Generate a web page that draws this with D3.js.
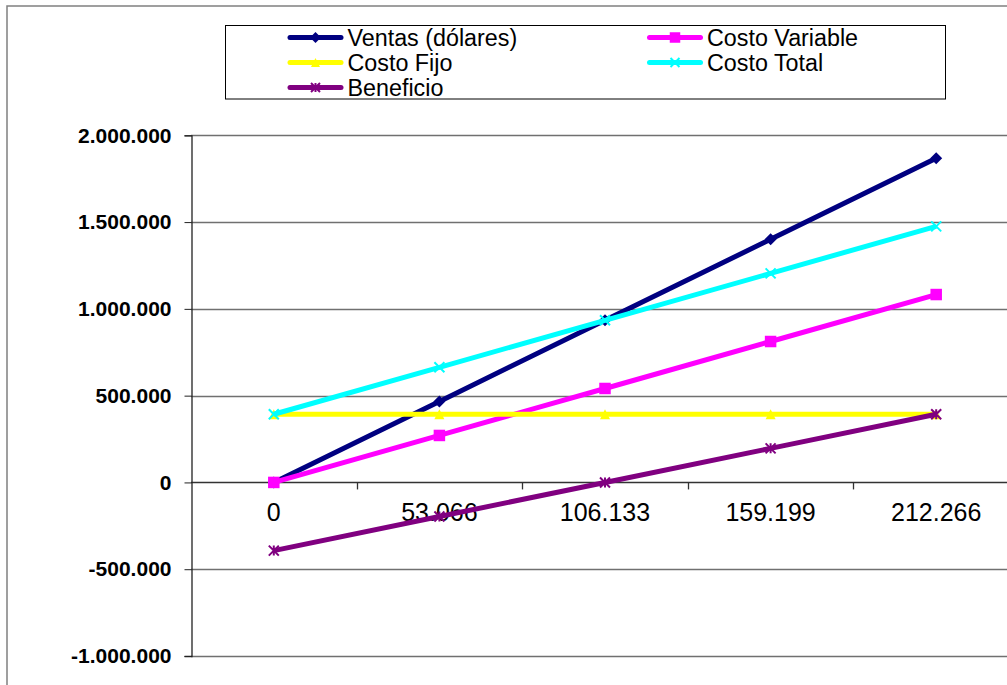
<!DOCTYPE html>
<html>
<head>
<meta charset="utf-8">
<script src="https://cdn.jsdelivr.net/npm/d3@7"></script>
<style>
  html, body { margin: 0; padding: 0; background: #fff; overflow: hidden; }
  svg { display: block; font-family: Arial, "Liberation Sans", sans-serif; }
</style>
</head>
<body>
<svg id="chart" width="1007" height="685"></svg>
<script>
// Unidades vendidas (eje de categorías)
const unidades = [0, 53066, 106133, 159199, 212266];

// Series en dólares
const ventas        = [0, 466981, 933970, 1400951, 1867941];
const costoVariable = [0, 270637, 541278, 811915, 1082557];
const costoFijo     = [392692, 392692, 392692, 392692, 392692];
const costoTotal    = [392692, 663329, 933970, 1204607, 1475249];
const beneficio     = [-392692, -196348, 0, 196344, 392692];

const yTicks = [-1000000, -500000, 0, 500000, 1000000, 1500000, 2000000];

const seriesNames = ["Ventas (dólares)", "Costo Variable", "Costo Fijo", "Costo Total", "Beneficio"];
const seriesValues = [ventas, costoVariable, costoFijo, costoTotal, beneficio];
const seriesColors = ["#000080", "#ff00ff", "#ffff00", "#00ffff", "#800080"];
const seriesMarkers = ["diamond", "square", "triangle", "x", "star"];

const es = d3.formatLocale({ decimal: ",", thousands: ".", grouping: [3], currency: ["$", ""], minus: "-" });
const fmt = es.format(",d");

const svg = d3.select("#chart");

// Marco exterior del gráfico
svg.append("rect")
  .attr("x", 7).attr("y", 6).attr("width", 1100).attr("height", 800)
  .attr("fill", "#fff").attr("stroke", "#808080").attr("stroke-width", 1.5);

const plot = { left: 191, right: 1019, top: 135.3, bottom: 656 };

const x = d3.scaleBand().domain(unidades).range([plot.left, plot.right]).paddingInner(0).paddingOuter(0);
const cx = d => x(d) + x.bandwidth() / 2;
const y = d3.scaleLinear().domain([-1000000, 2000000]).range([plot.bottom, plot.top]);

// Líneas de división horizontales
svg.append("g").selectAll("line").data(yTicks).join("line")
  .attr("x1", plot.left).attr("x2", 1010)
  .attr("y1", d => Math.round(y(d)) + 0.5).attr("y2", d => Math.round(y(d)) + 0.5)
  .attr("stroke", d => d === 0 ? "#333" : "#707070").attr("stroke-width", 1.3);

// Eje Y
const yAxis = d3.axisLeft(y).tickValues(yTicks).tickSize(7).tickPadding(13).tickFormat(fmt);
const gy = svg.append("g").attr("transform", `translate(${plot.left + 0.5},0)`).call(yAxis);
gy.select(".domain").attr("stroke", "#222").attr("stroke-width", 1.3);
gy.selectAll(".tick line").attr("stroke", "#222");
gy.selectAll(".tick text").attr("font-size", 21).attr("font-weight", "bold")
  .attr("fill", "#000").attr("font-family", "Arial, 'Liberation Sans', sans-serif");

// Eje X sobre el valor cero (marcas entre categorías)
const boundaries = unidades.slice(1).map(d => x(d));
svg.append("g").selectAll("line").data(boundaries).join("line")
  .attr("x1", d => Math.round(d) + 0.5).attr("x2", d => Math.round(d) + 0.5)
  .attr("y1", y(0)).attr("y2", y(0) + 7)
  .attr("stroke", "#333").attr("stroke-width", 1.3);

svg.append("g").selectAll("text").data(unidades).join("text")
  .attr("x", d => cx(d)).attr("y", y(0) + 39)
  .attr("text-anchor", "middle").attr("font-size", 25).attr("fill", "#000")
  .text(d => fmt(d));

// Marcadores
function drawMarker(g, type, color, px, py, s) {
  if (type === "diamond") {
    const h = s / 2;
    g.append("path").attr("d", `M${px},${py - h}L${px + h},${py}L${px},${py + h}L${px - h},${py}Z`)
      .attr("fill", color);
  } else if (type === "square") {
    g.append("rect").attr("x", px - s / 2).attr("y", py - s / 2).attr("width", s).attr("height", s).attr("fill", color);
  } else if (type === "triangle") {
    const h = s / 2;
    g.append("path").attr("d", `M${px},${py - h}L${px + h},${py + h}L${px - h},${py + h}Z`)
      .attr("fill", color);
  } else if (type === "x") {
    const h = s / 2;
    g.append("path").attr("d", `M${px - h},${py - h}L${px + h},${py + h}M${px - h},${py + h}L${px + h},${py - h}`)
      .attr("stroke", color).attr("stroke-width", 2).attr("fill", "none");
  } else if (type === "star") {
    const h = s / 2;
    g.append("path").attr("d", `M${px - h},${py - h}L${px + h},${py + h}M${px - h},${py + h}L${px + h},${py - h}M${px},${py - h}L${px},${py + h}`)
      .attr("stroke", color).attr("stroke-width", 2).attr("fill", "none");
  }
}

const markerSize = [12, 11.5, 10, 10, 10];

// Series
const line = d3.line().x((d, i) => cx(unidades[i])).y(d => y(d));
seriesValues.forEach((vals, k) => {
  const g = svg.append("g");
  g.append("path").datum(vals).attr("d", line)
    .attr("fill", "none").attr("stroke", seriesColors[k]).attr("stroke-width", 5)
    .attr("stroke-linejoin", "round");
  vals.forEach((v, i) => drawMarker(g, seriesMarkers[k], seriesColors[k], cx(unidades[i]), y(v), markerSize[k]));
});

// Leyenda
const legend = svg.append("g");
legend.append("rect").attr("x", 225.5).attr("y", 25.5).attr("width", 720).attr("height", 73.5)
  .attr("fill", "#fff").attr("stroke", "#000").attr("stroke-width", 1);

const legendPos = [
  { x: 288, y: 37.5 }, { x: 647.5, y: 37.5 },
  { x: 288, y: 62.5 }, { x: 647.5, y: 62.5 },
  { x: 288, y: 87.5 }
];
seriesNames.forEach((name, k) => {
  const p = legendPos[k];
  legend.append("line").attr("x1", p.x + 2).attr("x2", p.x + 53).attr("y1", p.y).attr("y2", p.y)
    .attr("stroke", seriesColors[k]).attr("stroke-width", 5).attr("stroke-linecap", "round");
  drawMarker(legend, seriesMarkers[k], seriesColors[k], p.x + 27.5, p.y, markerSize[k] - 1);
  legend.append("text").attr("x", p.x + 59.5).attr("y", p.y).attr("dy", "0.36em")
    .attr("font-size", 23.3).attr("fill", "#000").text(name);
});
</script>
</body>
</html>
